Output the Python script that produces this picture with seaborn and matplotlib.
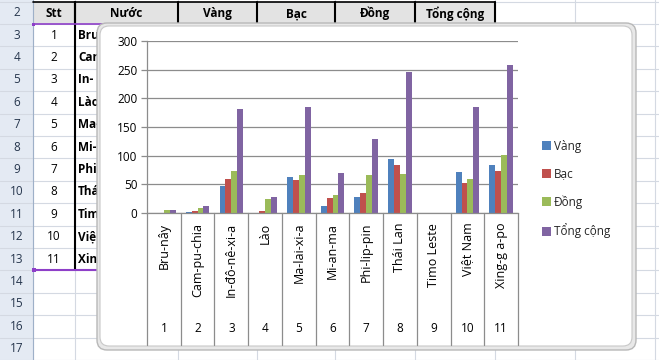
import matplotlib
matplotlib.use("Agg")
import matplotlib.pyplot as plt
from matplotlib.patches import Rectangle, FancyBboxPatch
from matplotlib.transforms import blended_transform_factory
import seaborn as sns
import pandas as pd

# ---------------- data ----------------
stt = [1, 2, 3, 4, 5, 6, 7, 8, 9, 10, 11]
countries = ["Bru-nây", "Cam-pu-chia", "In-đô-nê-xi-a", "Lào", "Ma-lai-xi-a",
             "Mi-an-ma", "Phi-lip-pin", "Thái Lan", "Timo Leste", "Việt Nam", "Xing-g a-po"]
vang = [0, 1, 47, 0, 62, 12, 28, 95, 0, 72, 84]
bac = [0, 4, 60, 4, 57, 26, 35, 83, 0, 53, 73]
dong = [6, 8, 74, 24, 66, 31, 66, 68, 0, 60, 101]
tong = [6, 13, 181, 28, 185, 69, 129, 246, 0, 185, 259]
series = ["Vàng", "Bạc", "Đồng", "Tổng cộng"]
colors = ["#4F81BD", "#C0504D", "#9BBB59", "#8064A2"]
yticks = [0, 50, 100, 150, 200, 250, 300]
headers = ["Stt", "Nước", "Vàng", "Bạc", "Đồng", "Tổng cộng"]

sns.set_theme(style="white")
plt.rcParams["font.family"] = ["Open Sans", "DejaVu Sans"]

W, H = 659, 360
fig = plt.figure(figsize=(W / 100, H / 100), dpi=100)

# ---------------- spreadsheet background ----------------
bg = fig.add_axes([0, 0, 1, 1])
bg.set_xlim(0, W)
bg.set_ylim(H, 0)
bg.axis("off")

row_top0 = 1.5
row_h = 22.4
col_x = [0, 33, 75, 178, 257, 335, 415, 495, 575, 655]
bg.add_patch(Rectangle((0, 0), 33, H, facecolor="#E4EAF3", edgecolor="none", zorder=0))
bg.add_patch(Rectangle((33, row_top0), 495 - 33, row_h, facecolor="#E3E3E3",
                       edgecolor="none", zorder=0))
for k in range(0, 17):
    y = row_top0 + k * row_h
    bg.plot([0, W], [y, y], color="#D4D9E2", lw=0.8, zorder=1)
for x in col_x[1:]:
    bg.plot([x, x], [0, H], color="#D4D9E2", lw=0.8, zorder=1)
bg.plot([33, 33], [0, H], color="#9EB0C8", lw=0.8, zorder=1)
for r in range(2, 18):
    yc = row_top0 + (r - 2) * row_h + row_h / 2
    bg.text(17, yc, str(r), ha="center", va="center", fontsize=8.5, color="#26364D", zorder=2)
for i, h in enumerate(headers):
    xc = (col_x[i + 1] + col_x[i + 2]) / 2
    bg.text(xc, row_top0 + row_h / 2 + 1, h, ha="center", va="center", fontsize=8.5,
            fontweight="bold", color="black", zorder=2)
for x in col_x[2:8]:
    bg.plot([x, x], [row_top0, row_top0 + row_h], color="black", lw=1.5, zorder=3)
bg.plot([33, 495], [row_top0, row_top0], color="black", lw=1.2, zorder=3)
# table body (name column is mostly hidden behind the chart: only the start shows)
clip_rect = Rectangle((0, 0), 97, H, transform=bg.transData, visible=False)
bg.add_patch(clip_rect)
for i, (n, c) in enumerate(zip(stt, countries)):
    yc = row_top0 + (i + 1) * row_h + row_h / 2
    bg.text(54, yc, str(n), ha="center", va="center", fontsize=8.5, color="black", zorder=2)
    t = bg.text(78, yc, c[:3], ha="left", va="center", fontsize=8.5, fontweight="bold",
                color="black", zorder=2)
    t.set_clip_path(clip_rect)
tbl_bot = row_top0 + 12 * row_h
bg.plot([75, 75], [row_top0, tbl_bot], color="black", lw=1.5, zorder=3)
bg.plot([33, 110], [row_top0 + row_h, row_top0 + row_h], color="#8E3FC8", lw=1.2, zorder=3)
bg.plot([33, 110], [tbl_bot, tbl_bot], color="#8E3FC8", lw=1.5, zorder=3)
bg.add_patch(Rectangle((32, tbl_bot - 2), 4, 4, facecolor="#8E3FC8", edgecolor="none", zorder=3))
bg.add_patch(Rectangle((32, row_top0 + row_h - 1), 3, 3, facecolor="#8E3FC8", edgecolor="none", zorder=3))

# chart frame
bg.add_patch(FancyBboxPatch((97, 23), 636 - 97, 350 - 23,
                            boxstyle="round,pad=0,rounding_size=10",
                            facecolor="#E8E8E8", edgecolor="#B8B8B8", lw=1.0, zorder=5))
bg.add_patch(FancyBboxPatch((100, 26), 632 - 100, 346 - 26,
                            boxstyle="round,pad=0,rounding_size=9",
                            facecolor="white", edgecolor="#C8C8C8", lw=0.8, zorder=6))

# ---------------- chart ----------------
ax_left, ax_right, ax_top, ax_bot = 147, 518, 41, 213
ax = fig.add_axes([ax_left / W, 1 - ax_bot / H, (ax_right - ax_left) / W, (ax_bot - ax_top) / H])
ax.set_zorder(10)
ax.patch.set_alpha(0)

rows = []
for i, c in enumerate(countries):
    for s, vals in zip(series, [vang, bac, dong, tong]):
        rows.append({"Nước": c, "Loại": s, "Số": vals[i]})
df = pd.DataFrame(rows)

sns.barplot(data=df, x="Nước", y="Số", hue="Loại", order=countries, hue_order=series,
            palette=colors, saturation=1, width=0.7, ax=ax, legend=True,
            edgecolor="none", linewidth=0)

handles, labels = ax.get_legend_handles_labels()
ax.get_legend().remove()

ax.set_xlim(-0.5, len(countries) - 0.5)
ax.set_ylim(0, 300)
ax.set_yticks(yticks)
ax.set_yticklabels([str(t) for t in yticks])
ax.yaxis.grid(True, color="#8C8C8C", lw=0.9)
ax.set_axisbelow(True)
ax.set_xlabel("")
ax.set_ylabel("")
for side in ["top", "right"]:
    ax.spines[side].set_visible(False)
for side in ["left", "bottom"]:
    ax.spines[side].set_color("#8C8C8C")
    ax.spines[side].set_linewidth(0.9)
ax.tick_params(axis="y", length=4, width=0.9, color="#8C8C8C", pad=3, labelsize=8.5,
               labelcolor="black", left=True)
ax.tick_params(axis="x", length=0, pad=7, labelsize=9, labelcolor="black")
ax.set_xticks(range(len(countries)))
ax.set_xticklabels(countries, rotation=90)

trans = blended_transform_factory(ax.transData, ax.transAxes)
div_bot = (ax_bot - 345) / (ax_bot - ax_top)
num_y = (ax_bot - 328) / (ax_bot - ax_top)
for i in range(len(countries) + 1):
    ax.plot([i - 0.5, i - 0.5], [0, div_bot], transform=trans, color="#8C8C8C",
            lw=0.9, clip_on=False)
for i, n in enumerate(stt):
    ax.text(i, num_y, str(n), transform=trans, ha="center", va="center",
            fontsize=8.5, color="black")

fig.legend(handles, labels, loc="upper left", bbox_to_anchor=(537 / W, 1 - 135 / H),
           frameon=False, fontsize=8.5, handlelength=0.75, handleheight=0.75,
           handletextpad=0.3, labelspacing=1.25, borderaxespad=0)

fig.savefig("out.png", dpi=100)
